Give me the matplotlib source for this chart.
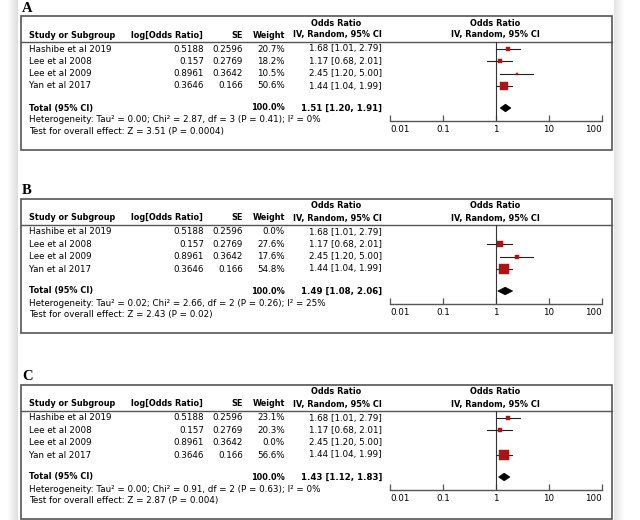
import matplotlib
matplotlib.use("Agg")
import matplotlib.pyplot as plt
from matplotlib.patches import Rectangle, Polygon

# --- data ---
studies = ["Hashibe et al 2019", "Lee et al 2008", "Lee et al 2009", "Yan et al 2017"]
log_or_txt = ["0.5188", "0.157", "0.8961", "0.3646"]
se_txt = ["0.2596", "0.2769", "0.3642", "0.166"]
odds = [1.68, 1.17, 2.45, 1.44]
ci_low = [1.01, 0.68, 1.20, 1.04]
ci_high = [2.79, 2.01, 5.00, 1.99]

panel_labels = ["A", "B", "C"]
weights_a = [20.7, 18.2, 10.5, 50.6]
weights_b = [0.0, 27.6, 17.6, 54.8]
weights_c = [23.1, 20.3, 0.0, 56.6]
total_or = [1.51, 1.49, 1.43]
total_low = [1.20, 1.08, 1.12]
total_high = [1.91, 2.06, 1.83]
heterogeneity = [
    "Heterogeneity: Tau\u00b2 = 0.00; Chi\u00b2 = 2.87, df = 3 (P = 0.41); I\u00b2 = 0%",
    "Heterogeneity: Tau\u00b2 = 0.02; Chi\u00b2 = 2.66, df = 2 (P = 0.26); I\u00b2 = 25%",
    "Heterogeneity: Tau\u00b2 = 0.00; Chi\u00b2 = 0.91, df = 2 (P = 0.63); I\u00b2 = 0%",
]
overall = [
    "Test for overall effect: Z = 3.51 (P = 0.0004)",
    "Test for overall effect: Z = 2.43 (P = 0.02)",
    "Test for overall effect: Z = 2.87 (P = 0.004)",
]
tick_vals = [0.01, 0.1, 1, 10, 100]
tick_txt = ["0.01", "0.1", "1", "10", "100"]

# --- layout (pixels) ---
W, H = 640, 520
panel_tops = [16, 199, 385]
box_left, box_right, box_h = 21, 612, 134
row_off = [33, 45.3, 57.6, 70]     # study rows below box top
sep_off, total_off, het_off, test_off, axis_off = 25.5, 92, 104, 115.5, 104.5
plot_left, plot_right = 390, 602
fs = 6.35      # regular text
fb = 5.9       # bold text
red = "#b01212"
edge = "#555555"

plt.rcParams["font.family"] = ["DejaVu Sans"]
fig = plt.figure(figsize=(6.4, 5.2), dpi=100)
bg = fig.add_axes([0, 0, 1, 1])
bg.set_xlim(0, W)
bg.set_ylim(H, 0)
bg.axis("off")

# page shadow at the edges of the screenshot
for i in range(10):
    a = 0.03 + 0.025 * i
    bg.add_patch(Rectangle((8 + i, 0), 1, H, color="#808080", alpha=a, lw=0))
    bg.add_patch(Rectangle((623 - i, 0), 1, H, color="#808080", alpha=a * 0.8, lw=0))

all_weights = [weights_a, weights_b, weights_c]

for p, top in enumerate(panel_tops):
    wts = all_weights[p]
    sep = top + sep_off
    bg.text(22, top - 8, panel_labels[p], family="Liberation Serif", weight="bold",
            fontsize=10.5, va="center", ha="left")
    bg.add_patch(Rectangle((box_left, top), box_right - box_left, box_h, fill=False,
                           ec=edge, lw=1.2))
    bg.plot([box_left, box_right], [sep, sep], color=edge, lw=1.0)

    # header
    h1, h2 = top + 7, top + 19
    bg.text(336, h1, "Odds Ratio", fontsize=fb, weight="bold", ha="center", va="center")
    bg.text(495, h1, "Odds Ratio", fontsize=fb, weight="bold", ha="center", va="center")
    bg.text(29, h2, "Study or Subgroup", fontsize=fb, weight="bold", va="center")
    bg.text(131, h2, "log[Odds Ratio]", fontsize=fb, weight="bold", va="center")
    bg.text(243, h2, "SE", fontsize=fb, weight="bold", ha="right", va="center")
    bg.text(285, h2, "Weight", fontsize=fb, weight="bold", ha="right", va="center")
    bg.text(382, h2, "IV, Random, 95% CI", fontsize=fb, weight="bold", ha="right", va="center")
    bg.text(495, h2, "IV, Random, 95% CI", fontsize=fb, weight="bold", ha="center", va="center")

    # study rows
    for i, name in enumerate(studies):
        y = top + row_off[i]
        bg.text(29, y, name, fontsize=fs, va="center")
        bg.text(204, y, log_or_txt[i], fontsize=fs, ha="right", va="center")
        bg.text(243, y, se_txt[i], fontsize=fs, ha="right", va="center")
        bg.text(285, y, f"{wts[i]:.1f}%", fontsize=fs, ha="right", va="center")
        bg.text(382, y, f"{odds[i]:.2f} [{ci_low[i]:.2f}, {ci_high[i]:.2f}]",
                fontsize=fs, ha="right", va="center")

    yt = top + total_off
    bg.text(29, yt, "Total (95% CI)", fontsize=fb, weight="bold", va="center")
    bg.text(285, yt, "100.0%", fontsize=fb, weight="bold", ha="right", va="center")
    bg.text(382, yt, f"{total_or[p]:.2f} [{total_low[p]:.2f}, {total_high[p]:.2f}]",
            fontsize=fb + 0.3, weight="bold", ha="right", va="center")
    bg.text(29, top + het_off, heterogeneity[p], fontsize=fs, va="center")
    bg.text(29, top + test_off, overall[p], fontsize=fs, va="center")

    # forest part on a log scale
    ax_h = axis_off - sep_off
    fx = fig.add_axes([plot_left / W, 1 - (top + axis_off) / H,
                       (plot_right - plot_left) / W, ax_h / H])
    fx.patch.set_visible(False)
    fx.set_xscale("log")
    fx.set_xlim(0.01, 100)
    fx.set_ylim(ax_h, 0)
    for s in ["top", "left", "right"]:
        fx.spines[s].set_visible(False)
    fx.spines["bottom"].set_color(edge)
    fx.spines["bottom"].set_linewidth(1.0)
    fx.set_yticks([])
    fx.set_xticks(tick_vals)
    fx.set_xticklabels(tick_txt)
    fx.minorticks_off()
    fx.tick_params(axis="x", direction="in", length=4, width=0.9, color=edge,
                   labelsize=fs, pad=3)
    labs = fx.get_xticklabels()
    labs[0].set_ha("left")
    labs[-1].set_ha("right")
    fx.axvline(1, color="#333333", lw=0.8)

    for i in range(len(studies)):
        if wts[i] <= 0:
            continue
        y = row_off[i] - sep_off
        fx.plot([ci_low[i], ci_high[i]], [y, y], color="#222222", lw=0.8)
        side = 8.5 * (wts[i] / 50.6) ** 0.75 * 0.72
        fx.plot(odds[i], y, marker="s", ms=side, color=red, mec=red, mew=0.3)

    yd = total_off - sep_off
    dh = 3.8
    fx.add_patch(Polygon([(total_low[p], yd), (total_or[p], yd - dh),
                          (total_high[p], yd), (total_or[p], yd + dh)],
                         closed=True, fc="black", ec="black", lw=0.5))

fig.savefig("out.png", dpi=100)
